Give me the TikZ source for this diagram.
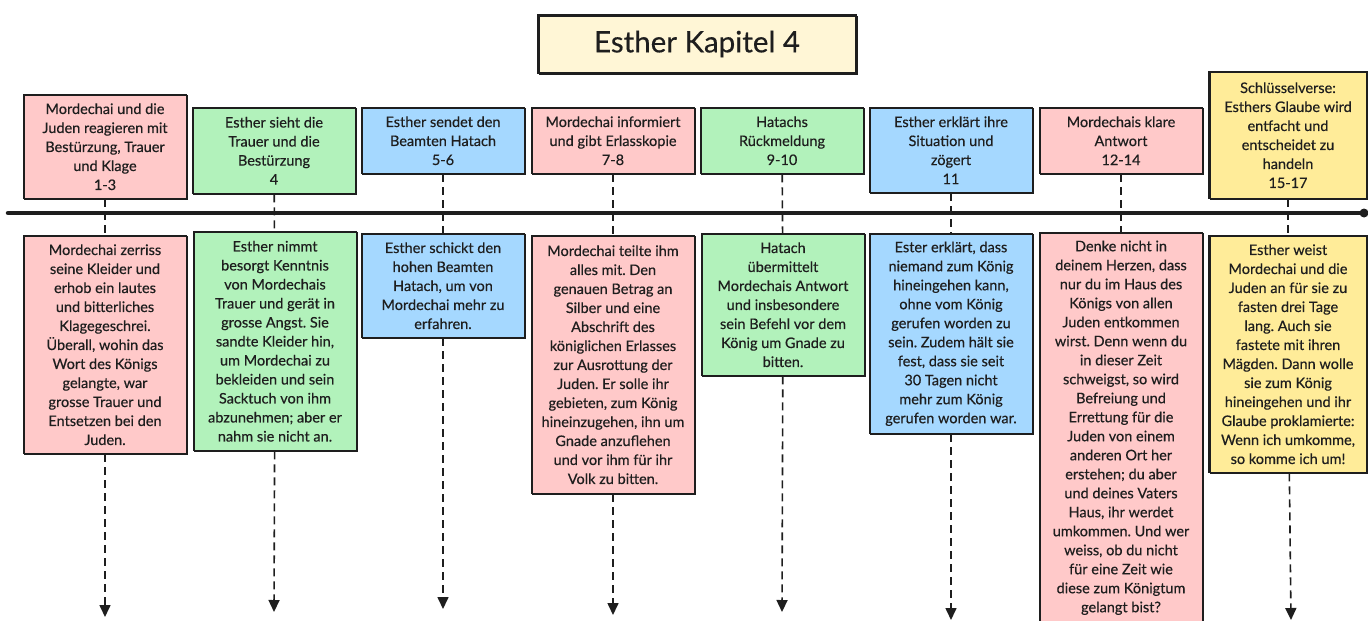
\documentclass[tikz,border=0pt]{standalone}
\usepackage{fontspec}
\setmainfont{Lato}[FakeBold=0.4]
\frenchspacing
\usetikzlibrary{arrows.meta}
\definecolor{inkline}{HTML}{1E1E1E}
\definecolor{redfill}{HTML}{FFC9C9}
\definecolor{greenfill}{HTML}{B2F2BB}
\definecolor{bluefill}{HTML}{A5D8FF}
\definecolor{yellowfill}{HTML}{FFEC99}
\definecolor{titlefill}{HTML}{FFF6D6}
\tikzset{
  card/.style={rectangle, draw=inkline, line width=1.4pt, anchor=north,
    minimum width=163, align=center, inner xsep=1pt, inner ysep=4pt, text=inkline,
    font=\fontsize{14.5}{19}\selectfont,
    postaction={draw=inkline, line width=0.6pt,
      transform canvas={shift={(0.9pt,-0.8pt)}}}},
  titlecard/.style={card, anchor=center, font=\fontsize{29.5}{32}\selectfont},
  dashline/.style={draw=inkline, line width=1.6pt, dash pattern=on 8pt off 5pt},
  arrowline/.style={dashline, -{Triangle[length=12pt,width=11pt]}},
  axisline/.style={draw=inkline, line width=4.5pt, line cap=round}
}
\begin{document}
\begin{tikzpicture}[x=1pt,y=-1pt]
  \useasboundingbox (0,0) rectangle (1368,621);
  % title
  \node[titlecard, fill=titlefill, minimum width=318, minimum height=58]
    (title) at (697,44) {Esther Kapitel 4};
  % headings above the time line
  \node[card, fill=redfill, minimum height=104] (t1) at (105,94)
    {Mordechai und die\\Juden reagieren mit\\Bestürzung, Trauer\\und Klage\\1-3};
  \node[card, fill=greenfill, minimum height=86] (t2) at (274,107)
    {Esther sieht die\\Trauer und die\\Bestürzung\\4};
  \node[card, fill=bluefill, minimum height=66] (t3) at (443,107)
    {Esther sendet den\\Beamten Hatach\\5-6};
  \node[card, fill=redfill, minimum height=66] (t4) at (613,107)
    {Mordechai informiert\\und gibt Erlasskopie\\7-8};
  \node[card, fill=greenfill, minimum height=66] (t5) at (782,107)
    {Hatachs\\Rückmeldung\\9-10};
  \node[card, fill=bluefill, minimum height=85] (t6) at (951,107)
    {Esther erklärt ihre\\Situation und\\zögert\\11};
  \node[card, fill=redfill, minimum height=66] (t7) at (1121,107)
    {Mordechais klare\\Antwort\\12-14};
  \node[card, fill=yellowfill, minimum height=127, minimum width=158] (t8) at (1288,71)
    {Schlüsselverse:\\Esthers Glaube wird\\entfacht und\\entscheidet zu\\handeln\\15-17};
  % details below the time line
  \node[card, fill=redfill, minimum height=218] (b1) at (105,235)
    {Mordechai zerriss\\seine Kleider und\\erhob ein lautes\\und bitterliches\\Klagegeschrei.\\Überall, wohin das\\Wort des Königs\\gelangte, war\\grosse Trauer und\\Entsetzen bei den\\Juden.};
  \node[card, fill=greenfill, minimum height=219] (b2) at (275,231)
    {Esther nimmt\\besorgt Kenntnis\\von Mordechais\\Trauer und gerät in\\grosse Angst. Sie\\sandte Kleider hin,\\um Mordechai zu\\bekleiden und sein\\Sacktuch von ihm\\abzunehmen; aber er\\nahm sie nicht an.};
  \node[card, fill=bluefill, minimum height=104] (b3) at (443,233)
    {Esther schickt den\\hohen Beamten\\Hatach, um von\\Mordechai mehr zu\\erfahren.};
  \node[card, fill=redfill, minimum height=258] (b4) at (613,235)
    {Mordechai teilte ihm\\alles mit. Den\\genauen Betrag an\\Silber und eine\\Abschrift des\\königlichen Erlasses\\zur Ausrottung der\\Juden. Er solle ihr\\gebieten, zum König\\hineinzugehen, ihn um\\Gnade anzuflehen\\und vor ihm für ihr\\Volk zu bitten.};
  \node[card, fill=greenfill, minimum height=142] (b5) at (783,233)
    {Hatach\\übermittelt\\Mordechais Antwort\\und insbesondere\\sein Befehl vor dem\\König um Gnade zu\\bitten.};
  \node[card, fill=bluefill, minimum height=200] (b6) at (951,233)
    {Ester erklärt, dass\\niemand zum König\\hineingehen kann,\\ohne vom König\\gerufen worden zu\\sein. Zudem hält sie\\fest, dass sie seit\\30 Tagen nicht\\mehr zum König\\gerufen worden war.};
  \node[card, fill=redfill, minimum height=390] (b7) at (1121,232)
    {Denke nicht in\\deinem Herzen, dass\\nur du im Haus des\\Königs von allen\\Juden entkommen\\wirst. Denn wenn du\\in dieser Zeit\\schweigst, so wird\\Befreiung und\\Errettung für die\\Juden von einem\\anderen Ort her\\erstehen; du aber\\und deines Vaters\\Haus, ihr werdet\\umkommen. Und wer\\weiss, ob du nicht\\für eine Zeit wie\\diese zum Königtum\\gelangt bist?};
  \node[card, fill=yellowfill, minimum height=237, minimum width=158] (b8) at (1288,235)
    {Esther weist\\Mordechai und die\\Juden an für sie zu\\fasten drei Tage\\lang. Auch sie\\fastete mit ihren\\Mägden. Dann wolle\\sie zum König\\hineingehen und ihr\\Glaube proklamierte:\\Wenn ich umkomme,\\so komme ich um!};
  % arrow ends
  \coordinate (e1) at (105,617);
  \coordinate (e2) at (274,612);
  \coordinate (e3) at (443,609);
  \coordinate (e4) at (613,615);
  \coordinate (e5) at (782,612);
  \coordinate (e6) at (951,620);
  \coordinate (e8) at (1291,620);
  % connectors
  \foreach \i in {1,...,8}
    \draw[dashline] (t\i) -- (b\i);
  \foreach \i in {1,2,3,4,5,6,8}
    \draw[arrowline] (b\i) -- (e\i);
  % time line
  \coordinate (tl0) at (8,213);
  \coordinate (tl1) at (1364,213);
  \draw[axisline] (tl0) -- (tl1);
  \fill[inkline] (tl1) circle (4.5);
\end{tikzpicture}
\end{document}
